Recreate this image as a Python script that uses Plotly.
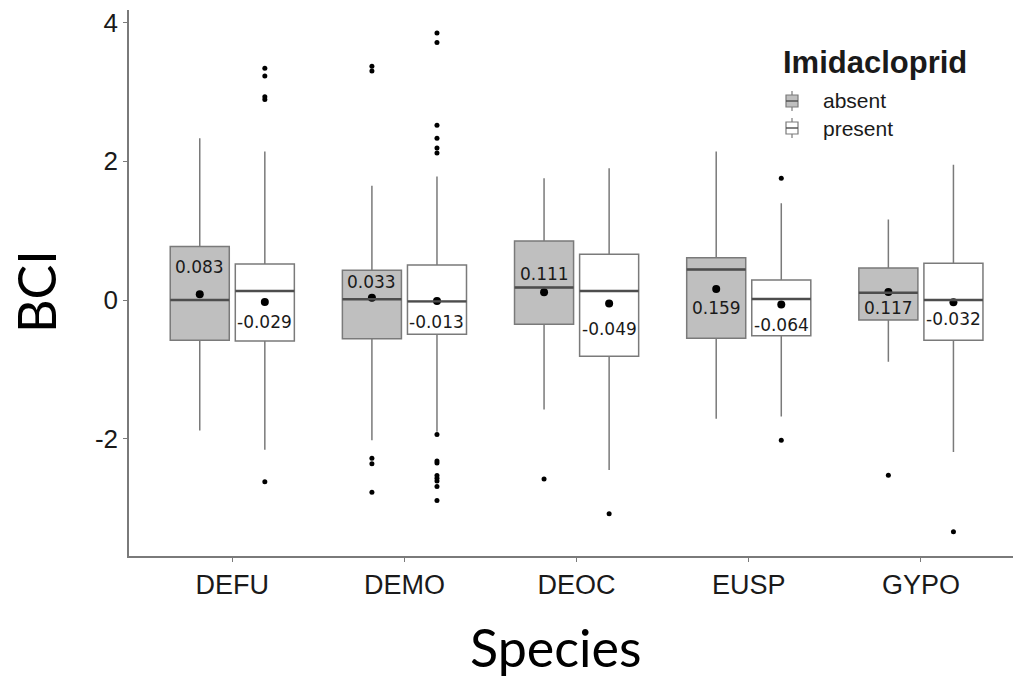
import plotly.graph_objects as go

# ---- data -------------------------------------------------------------
species = ["DEFU", "DEMO", "DEOC", "EUSP", "GYPO"]
y_ticks = [-2, 0, 2, 4]
y_tick_text = ["-2", "0", "2", "4"]

# Imidacloprid absent: box statistics per species
absent_q1 = [-0.58, -0.56, -0.35, -0.55, -0.29]
absent_median = [0.0, 0.01, 0.18, 0.44, 0.105]
absent_q3 = [0.77, 0.43, 0.85, 0.61, 0.46]
absent_lower = [-1.88, -2.02, -1.58, -1.71, -0.89]
absent_upper = [2.33, 1.645, 1.755, 2.14, 1.16]
absent_mean = [0.083, 0.033, 0.111, 0.159, 0.117]
absent_outliers = [
    [],
    [3.37, 3.30, -2.28, -2.36, -2.77],
    [-2.58],
    [],
    [-2.525],
]

# Imidacloprid present: box statistics per species
present_q1 = [-0.59, -0.495, -0.81, -0.515, -0.58]
present_median = [0.13, -0.02, 0.13, 0.014, 0.0]
present_q3 = [0.52, 0.505, 0.66, 0.29, 0.53]
present_lower = [-2.16, -1.90, -2.45, -1.68, -2.19]
present_upper = [2.14, 1.78, 1.90, 1.395, 1.95]
present_mean = [-0.029, -0.013, -0.049, -0.064, -0.032]
present_outliers = [
    [3.34, 3.23, 2.93, 2.89, -2.62],
    [3.85, 3.71, 2.52, 2.33, 2.19, 2.12, -1.94, -2.32, -2.35, -2.53,
     -2.57, -2.61, -2.69, -2.89],
    [-3.08],
    [1.755, -2.02],
    [-3.34],
]

# ---- styling ----------------------------------------------------------
W, H = 1013, 677
M_L, M_T, M_B = 129, 10, 121
PLOT_W = W - M_L
PLOT_H = H - M_T - M_B

DODGE = 0.189          # half distance between the two boxes of a species
BOX_W = 0.343
LINE_C = "#7a7a7a"
MEDIAN_C = "#4d4d4d"
TEXT_C = "#1a1a1a"
TICK_FONT = "Liberation Sans, Arial, sans-serif"
TITLE_FONT = "Lato, Open Sans, sans-serif"
VALUE_FONT = "DejaVu Sans, sans-serif"

# vertical pixel shift of each mean label (positive = above the dot)
absent_label_shift = [27, 16, 18, -19, -16]
present_label_shift = [-20, -21, -26, -21, -17]


def px_x(px):
    """Horizontal pixel position -> paper fraction."""
    return (px - M_L) / PLOT_W


def px_y(py):
    """Vertical pixel position (from top) -> paper fraction."""
    return (H - M_B - py) / PLOT_H


groups = [
    dict(name="absent", side=-1, fill="#bfbfbf",
         q1=absent_q1, med=absent_median, q3=absent_q3,
         lo=absent_lower, hi=absent_upper, mean=absent_mean,
         out=absent_outliers, shift=absent_label_shift),
    dict(name="present", side=1, fill="#ffffff",
         q1=present_q1, med=present_median, q3=present_q3,
         lo=present_lower, hi=present_upper, mean=present_mean,
         out=present_outliers, shift=present_label_shift),
]

fig = go.Figure()
annotations = []
shapes = []

for g in groups:
    pos = [i + g["side"] * DODGE for i in range(len(species))]
    fig.add_trace(go.Box(
        name=g["name"],
        x=pos,
        q1=g["q1"], median=g["med"], q3=g["q3"],
        lowerfence=g["lo"], upperfence=g["hi"],
        width=BOX_W,
        fillcolor=g["fill"],
        line=dict(color=LINE_C, width=1.5),
        whiskerwidth=0,
        boxpoints=False,
        hoverinfo="skip",
        showlegend=False,
    ))
    # darker median bars on top of each box
    for p, m in zip(pos, g["med"]):
        shapes.append(dict(
            type="line", xref="x", yref="y",
            x0=p - BOX_W / 2, x1=p + BOX_W / 2, y0=m, y1=m,
            line=dict(color=MEDIAN_C, width=2.4),
        ))
    # outliers
    ox, oy = [], []
    for p, vals in zip(pos, g["out"]):
        ox += [p] * len(vals)
        oy += vals
    fig.add_trace(go.Scatter(
        x=ox, y=oy, mode="markers",
        marker=dict(color="black", size=5),
        showlegend=False, hoverinfo="skip",
    ))
    # means
    fig.add_trace(go.Scatter(
        x=pos, y=g["mean"], mode="markers",
        marker=dict(color="black", size=8),
        showlegend=False, hoverinfo="skip",
    ))
    for p, m, s in zip(pos, g["mean"], g["shift"]):
        annotations.append(dict(
            x=p, y=m, xref="x", yref="y", text=f"{m:.3f}",
            showarrow=False, yshift=s,
            font=dict(family=VALUE_FONT, size=17, color=TEXT_C),
        ))

# ---- legend (boxplot key glyphs) ---------------------------------------
annotations.append(dict(
    x=px_x(781), y=px_y(63), xref="paper", yref="paper",
    text="<b>Imidacloprid</b>", showarrow=False,
    xanchor="left", yanchor="middle",
    font=dict(family=TICK_FONT, size=31, color=TEXT_C),
))
for g, cy in zip(groups, [101, 128]):
    cx = 792
    shapes.append(dict(type="line", xref="paper", yref="paper",
                       x0=px_x(cx), x1=px_x(cx), y0=px_y(cy - 10), y1=px_y(cy + 10),
                       line=dict(color=LINE_C, width=1.2)))
    shapes.append(dict(type="rect", xref="paper", yref="paper",
                       x0=px_x(cx - 6), x1=px_x(cx + 6), y0=px_y(cy - 6), y1=px_y(cy + 6),
                       fillcolor=g["fill"], line=dict(color=LINE_C, width=1.2)))
    shapes.append(dict(type="line", xref="paper", yref="paper",
                       x0=px_x(cx - 6), x1=px_x(cx + 6), y0=px_y(cy), y1=px_y(cy),
                       line=dict(color=MEDIAN_C, width=1.4)))
    annotations.append(dict(
        x=px_x(821), y=px_y(cy), xref="paper", yref="paper",
        text=g["name"], showarrow=False, xanchor="left", yanchor="middle",
        font=dict(family=TICK_FONT, size=21, color=TEXT_C),
    ))

# ---- axis titles --------------------------------------------------------
annotations.append(dict(
    x=px_x(36), y=px_y(292), xref="paper", yref="paper", text="BCI",
    textangle=-90, showarrow=False, xanchor="center", yanchor="middle",
    font=dict(family=TITLE_FONT, size=52, color="black"),
))
annotations.append(dict(
    x=px_x(556), y=px_y(614), xref="paper", yref="paper", text="Species",
    showarrow=False, xanchor="center", yanchor="top",
    font=dict(family=TITLE_FONT, size=52, color="black"),
))

fig.update_layout(
    width=W, height=H,
    margin=dict(l=M_L, r=0, t=M_T, b=M_B),
    paper_bgcolor="white", plot_bgcolor="white",
    annotations=annotations,
    shapes=shapes,
    showlegend=False,
)

fig.update_xaxes(
    range=[-0.6, 4.535],
    tickmode="array", tickvals=list(range(len(species))), ticktext=species,
    tickfont=dict(family=TICK_FONT, size=27, color=TEXT_C),
    showline=True, linecolor=LINE_C, linewidth=1.6,
    ticks="outside", ticklen=4, tickcolor=LINE_C,
    showgrid=False, zeroline=False,
)
fig.update_yaxes(
    range=[-3.69, 4.18],
    tickmode="array", tickvals=y_ticks, ticktext=y_tick_text,
    tickfont=dict(family=TICK_FONT, size=26, color=TEXT_C),
    showline=True, linecolor=LINE_C, linewidth=1.6,
    ticks="outside", ticklen=4, tickcolor=LINE_C,
    showgrid=False, zeroline=False,
)

fig.write_html("out.html")
